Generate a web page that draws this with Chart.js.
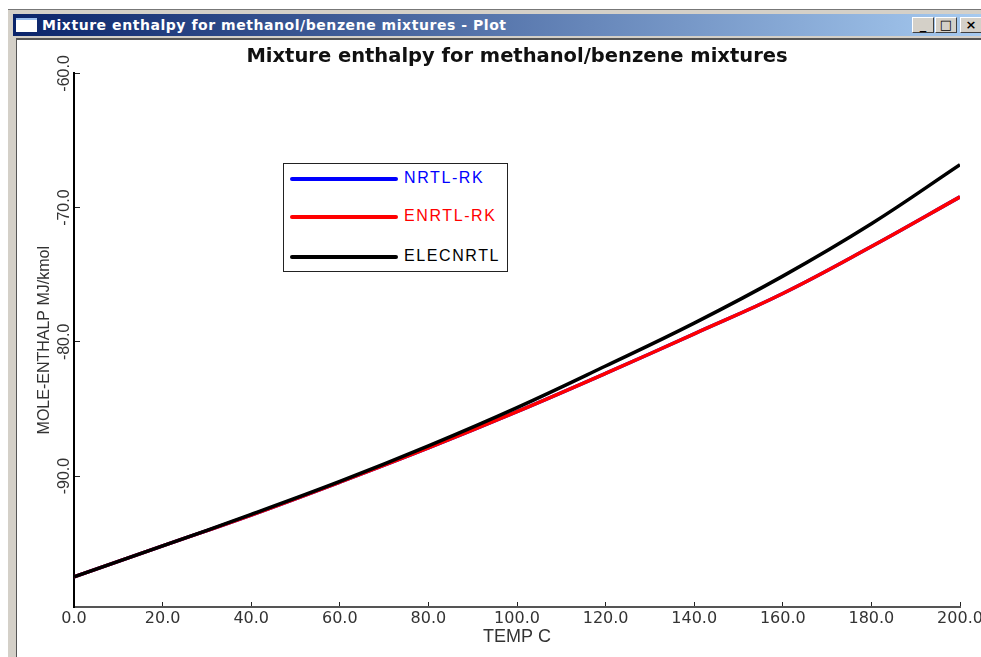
<!DOCTYPE html>
<html lang="en">
<head>
    <meta charset="UTF-8">
    <title>Mixture enthalpy for methanol/benzene mixtures - Plot</title>
    <script src="https://cdn.jsdelivr.net/npm/chart.js"></script>
    <style>
        html, body { margin: 0; padding: 0; background: #fff; overflow: hidden; }
        body { width: 981px; height: 657px; position: relative; font-family: "Liberation Sans", Arial, sans-serif; }
        #frame { position: absolute; left: 8px; top: 9px; width: 973px; height: 648px; background: #d4d0c8; border-top: 1px solid #777; box-sizing: border-box; }
        #titlebar { position: absolute; left: 5px; top: 4px; right: 0; height: 22px; color: #fff; font: bold 14px "DejaVu Sans", sans-serif; letter-spacing: 0.55px; line-height: 22px; background: linear-gradient(to right, #0a246a, #a6caf0); }
        #titlebar span { position: absolute; left: 29px; top: 0; white-space: nowrap; }
        #icon { position: absolute; left: 3px; top: 4px; width: 21px; height: 14px; background: #fff; border-top: 2px solid #9cc0ee; box-sizing: border-box; }
        .btn { position: absolute; top: 3px; width: 22px; height: 16px; background: #d4d0c8; border: 1px solid; border-color: #fff #404040 #404040 #fff; box-sizing: border-box; color: #000; font: bold 13px "DejaVu Sans", sans-serif; line-height: 13px; text-align: center; letter-spacing: 0; }
        #client { position: absolute; left: 8px; top: 28px; right: 0; bottom: 0; background: #fff; border-left: 1px solid #555; border-top: 2px solid #555; }
        #plot { position: absolute; left: 0; top: 0; }
        #legend { position: absolute; left: 283px; top: 163px; width: 225px; height: 109px; border: 1px solid #222; box-sizing: border-box; background: #fff; font: 16px "Liberation Sans", Arial, sans-serif; letter-spacing: 1.6px; }
        #legend div { position: absolute; left: 6px; white-space: nowrap; }
        #legend i { display: inline-block; width: 108px; height: 4px; border-radius: 2px; margin-right: 6px; vertical-align: middle; }
    </style>
</head>
<body>
    <div id="frame">
        <div id="titlebar">
            <div id="icon"></div>
            <span>Mixture enthalpy for methanol/benzene mixtures - Plot</span>
            <div class="btn" style="right:47px">_</div>
            <div class="btn" style="right:24px">□</div>
            <div class="btn" style="right:-1px">×</div>
        </div>
        <div id="client"></div>
    </div>
    <canvas id="plot" width="981" height="657"></canvas>
    <div id="legend">
        <div style="top:5px;color:#0000ff"><i style="background:#0000ff"></i>NRTL-RK</div>
        <div style="top:43px;color:#ff0000"><i style="background:#ff0000"></i>ENRTL-RK</div>
        <div style="top:83px;color:#000"><i style="background:#000"></i>ELECNRTL</div>
    </div>

    <script>
        const chartTitle = "Mixture enthalpy for methanol/benzene mixtures";
        const xTitle = "TEMP C";
        const yTitle = "MOLE-ENTHALP MJ/kmol";
        const temps = [0, 20, 40, 60, 80, 100, 120, 140, 160, 180, 200];
        const yTicks = [-60, -70, -80, -90];
        const nrtlRk = [-97.5, -95.2, -92.9, -90.45, -87.9, -85.2, -82.35, -79.4, -76.4, -72.9, -69.2];
        const enrtlRk = [-97.5, -95.2, -92.9, -90.45, -87.9, -85.2, -82.35, -79.4, -76.4, -72.9, -69.2];
        const elecNrtl = [-97.5, -95.2, -92.85, -90.4, -87.75, -84.9, -81.8, -78.6, -75.1, -71.2, -66.8];

        function toPoints(values) {
            return values.map((v, i) => ({ x: temps[i], y: v }));
        }

        new Chart(document.getElementById("plot").getContext("2d"), {
            type: "line",
            data: {
                datasets: [
                    { label: "NRTL-RK", data: toPoints(nrtlRk), borderColor: "#0000ff", order: 2 },
                    { label: "ENRTL-RK", data: toPoints(enrtlRk), borderColor: "#ff0000", order: 1 },
                    { label: "ELECNRTL", data: toPoints(elecNrtl), borderColor: "#000000", order: 0 }
                ]
            },
            options: {
                responsive: false,
                animation: false,
                layout: { autoPadding: false, padding: { left: 0, right: 21, top: 0, bottom: 0 } },
                elements: {
                    point: { radius: 0 },
                    line: { borderWidth: 3.5, tension: 0.4 }
                },
                plugins: {
                    legend: { display: false },
                    tooltip: { enabled: false },
                    title: {
                        display: true,
                        fullSize: false,
                        text: chartTitle,
                        color: "#111",
                        font: { family: "'DejaVu Sans'", size: 19.5, weight: "bold", lineHeight: 1.2 },
                        padding: { top: 45, bottom: 5 }
                    }
                },
                scales: {
                    x: {
                        type: "linear",
                        min: 0,
                        max: 200,
                        // tick label padding would otherwise pull the right edge in
                        afterFit(axis) { axis.height = 50; axis.paddingLeft = 0; axis.paddingRight = 0; },
                        afterBuildTicks(axis) { axis.ticks = temps.map(v => ({ value: v })); },
                        border: { color: "#555", width: 2 },
                        grid: { display: true, drawOnChartArea: false, tickLength: -5, color: "#222" },
                        ticks: { color: "#333", padding: 7, maxRotation: 0, font: { family: "'DejaVu Sans'", size: 16 }, callback: v => v.toFixed(1) },
                        title: { display: true, text: xTitle, color: "#333", padding: { top: 0, bottom: 9 }, font: { family: "'Liberation Sans'", size: 18 } }
                    },
                    y: {
                        min: -99.75,
                        max: -60,
                        afterFit(axis) { axis.width = 74; },
                        afterBuildTicks(axis) { axis.ticks = yTicks.map(v => ({ value: v })); },
                        border: { color: "#000", width: 2 },
                        grid: { display: true, drawOnChartArea: false, tickLength: -6, color: "#222" },
                        ticks: { color: "#333", padding: -3, minRotation: 90, maxRotation: 90, crossAlign: "center", font: { family: "'Liberation Sans'", size: 16 }, callback: v => v.toFixed(1) },
                        title: { display: true, text: yTitle, color: "#333", padding: { top: 35, bottom: 0 }, font: { family: "'Liberation Sans'", size: 16 } }
                    }
                }
            }
        });
    </script>
</body>
</html>
